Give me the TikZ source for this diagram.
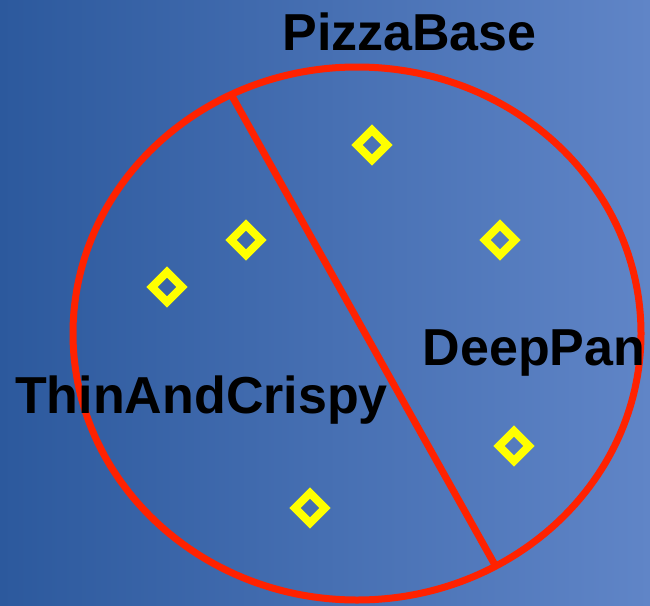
\documentclass[tikz,border=0pt]{standalone}
\usepackage{fontspec}
\setmainfont{Liberation Sans}
\begin{document}
\begin{tikzpicture}[x=1pt,y=-1pt,
  boundary/.style={draw=pizzared,line width=7pt},
  member/.style={draw=memberyellow,line width=8pt,miter limit=10,line join=miter},
  classlabel/.style={font=\fontsize{52}{52}\selectfont\bfseries,text=black,anchor=base,inner sep=0pt}]
  \definecolor{pizzared}{RGB}{255,34,0}
  \definecolor{memberyellow}{RGB}{255,255,0}
  \definecolor{bgA}{RGB}{44,89,157}
  \definecolor{bgB}{RGB}{96,133,199}
  % background
  \shade[left color=bgA,right color=bgB] (0,0) rectangle (650,605);
  \useasboundingbox (0,0) rectangle (650,605);

  % class extent and partition
  \coordinate (c) at (357,333.5);
  \draw[boundary] (c) ellipse [x radius=284, y radius=266.5];
  \coordinate (chordtop) at (231.2,94.6);
  \coordinate (chordbot) at (495.6,566.1);
  \draw[boundary] (chordtop) -- (chordbot);

  % individuals
  \foreach \n/\px/\py in {i1/372/145, i2/500/240, i3/246/240, i4/167/287, i5/514/446, i6/310/508}{
    \draw[member] (\px,\py-15) -- (\px+15,\py) -- (\px,\py+15) -- (\px-15,\py) -- cycle;
  }

  % labels
  \node[classlabel] (pizzabase) at (409.5,50) {PizzaBase};
  \node[classlabel] (thin) at (201.5,413) {ThinAndCrispy};
  \node[classlabel] (deep) at (534,365) {DeepPan};
\end{tikzpicture}
\end{document}
